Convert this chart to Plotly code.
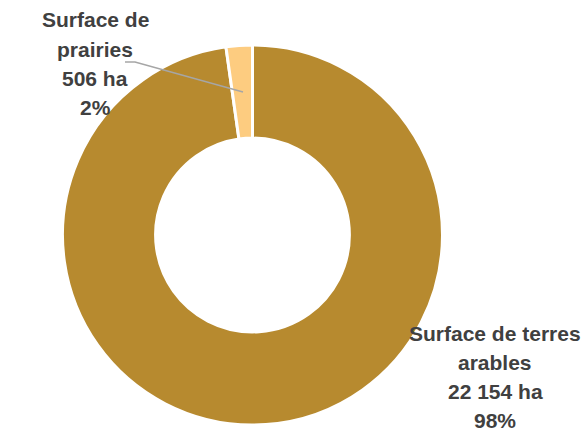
import plotly.graph_objects as go

categories = ["Surface de terres arables", "Surface de prairies"]
values = [22154, 506]
label_lines = [["Surface de terres", "arables", "22 154 ha", "98%"],
               ["Surface de", "prairies", "506 ha", "2%"]]
colors = ["#B78A2F", "#FDCC80"]

W, H = 581, 430

fig = go.Figure(go.Pie(
    labels=categories, values=values, hole=0.51, sort=False,
    direction="clockwise", rotation=0, textinfo="none",
    marker=dict(colors=colors, line=dict(color="white", width=3)),
    domain=dict(x=[62 / W, 443 / W], y=[5 / H, 385 / H]),
    showlegend=False, hoverinfo="label+value+percent",
))

font = dict(family="Liberation Sans Narrow, Arial Narrow, sans-serif", size=21, color="#404040")
pos = [(495, 333), (95, 20)]
spacing = 29.3
for lines, (px, py) in zip(label_lines, pos):
    for i, line in enumerate(lines):
        fig.add_annotation(x=px / W, y=1 - (py + i * spacing) / H, xref="paper", yref="paper",
                           text="<b>" + line + "</b>", showarrow=False,
                           xanchor="center", yanchor="middle", font=font, align="center")

# leader line for prairies
fig.add_shape(type="path", xref="paper", yref="paper",
              path=f"M {125/W} {1-62/H} L {135/W} {1-62/H} L {243/W} {1-92/H}",
              line=dict(color="#A6A6A6", width=1.5))

fig.update_layout(width=W, height=H, margin=dict(l=0, r=0, t=0, b=0),
                  paper_bgcolor="white", plot_bgcolor="white")
fig.write_html("out.html")
